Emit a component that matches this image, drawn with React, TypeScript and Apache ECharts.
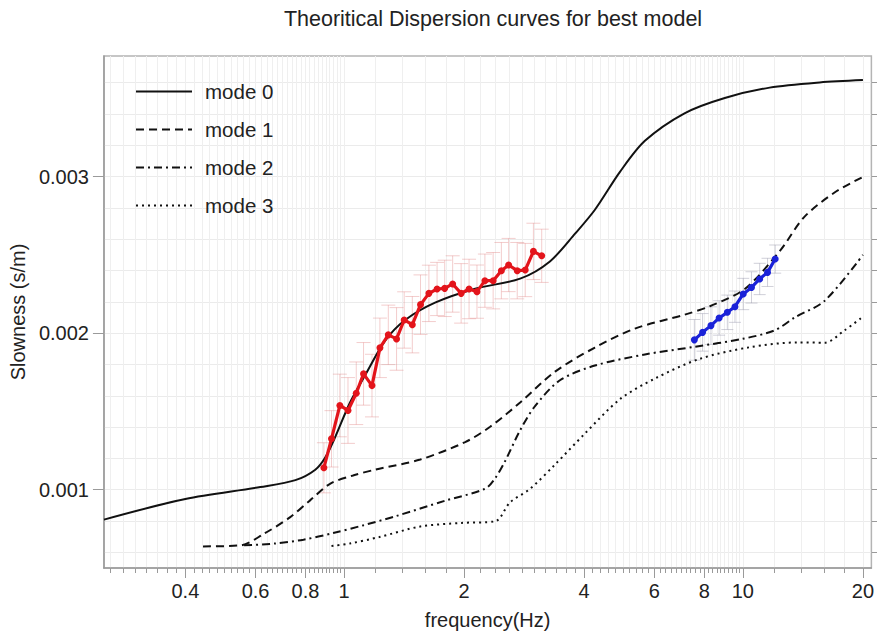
import { useEffect, useRef } from "react";
import * as echarts from "echarts";

// ---- theoretical dispersion curves (frequency Hz, slowness s/m) ----
const mode0Freq = [0.25, 0.4, 0.617, 0.755, 0.847, 0.897, 0.95, 1.035, 1.13, 1.268, 1.423, 1.691, 2.132, 2.764, 3.282, 3.795, 4.256, 4.918, 5.68, 7.139, 9.008, 11.67, 15.58, 20];
const mode0Slow = [0.000809, 0.000941, 0.001017, 0.001061, 0.001128, 0.001206, 0.001336, 0.001557, 0.001732, 0.001952, 0.002084, 0.002195, 0.002284, 0.002348, 0.002458, 0.002635, 0.002788, 0.00303, 0.003228, 0.003404, 0.003502, 0.003568, 0.003601, 0.003616];

const mode1Freq = [0.443, 0.551, 0.63, 0.733, 0.822, 0.922, 1.053, 1.197, 1.553, 2.012, 2.324, 2.764, 3.381, 4.256, 5.362, 7.151, 8.263, 10.11, 12.37, 14.28, 16.98, 20];
const mode1Slow = [0.000638, 0.000645, 0.000719, 0.000825, 0.000932, 0.001038, 0.001091, 0.001128, 0.001193, 0.001304, 0.001402, 0.001557, 0.001754, 0.001908, 0.002029, 0.002118, 0.002172, 0.002282, 0.002524, 0.002744, 0.002898, 0.002998];

const mode2Freq = [0.5615, 0.667, 0.791, 0.939, 1.115, 1.344, 1.793, 2.257, 2.391, 2.533, 2.764, 3.012, 3.478, 4.256, 5.68, 7.575, 9.96, 12.02, 13.51, 16.04, 20];
const mode2Slow = [0.000645, 0.000656, 0.000681, 0.000723, 0.000772, 0.00083, 0.00093, 0.001006, 0.001072, 0.001182, 0.00138, 0.001534, 0.001699, 0.001793, 0.001864, 0.001913, 0.001963, 0.002018, 0.002101, 0.002207, 0.0025];

const mode3Freq = [0.93, 1.033, 1.226, 1.553, 1.973, 2.391, 2.608, 2.928, 3.381, 4.018, 4.918, 6.018, 7.777, 10.35, 13.77, 16.04, 17.99, 20];
const mode3Slow = [0.00064, 0.000656, 0.000698, 0.000765, 0.000788, 0.000798, 0.000919, 0.001006, 0.001161, 0.001359, 0.001578, 0.00171, 0.001835, 0.001909, 0.001941, 0.001939, 0.002018, 0.002105];

// ---- observed dispersion (red, low frequency) ----
const redFreq = [0.89, 0.93, 0.976, 1.023, 1.073, 1.119, 1.175, 1.23, 1.291, 1.354, 1.415, 1.483, 1.555, 1.632, 1.711, 1.788, 1.872, 1.966, 2.058, 2.154, 2.255, 2.365, 2.48, 2.586, 2.718, 2.846, 2.984, 3.13];
const redSlow = [0.00114, 0.001325, 0.001538, 0.001506, 0.001616, 0.00174, 0.001665, 0.001906, 0.001989, 0.001963, 0.002084, 0.002054, 0.002182, 0.002254, 0.002282, 0.002286, 0.002314, 0.002254, 0.002282, 0.002265, 0.002335, 0.002335, 0.002399, 0.002435, 0.002399, 0.002403, 0.002522, 0.002494];
const redErr = [0.00016, 0.00018, 0.0002, 0.00021, 0.0002, 0.0002, 0.0002, 0.00019, 0.00019, 0.0002, 0.00018, 0.00018, 0.00019, 0.00018, 0.00017, 0.00018, 0.00018, 0.00019, 0.00019, 0.00017, 0.00017, 0.00018, 0.00018, 0.00017, 0.00018, 0.00017, 0.00018, 0.00017];

// ---- observed dispersion (blue, high frequency) ----
const blueFreq = [7.557, 7.925, 8.317, 8.718, 9.142, 9.553, 10.02, 10.51, 11.02, 11.53, 12.05];
const blueSlow = [0.001957, 0.002005, 0.002048, 0.002097, 0.002133, 0.002169, 0.00225, 0.002292, 0.002346, 0.002388, 0.002473];
const blueErr = [0.00013, 0.00012, 0.00012, 0.00011, 0.00011, 0.0001, 0.0001, 0.0001, 0.0001, 0.00009, 0.00009];

// ---- axes ----
const xLabelValues = [0.4, 0.6, 0.8, 1, 2, 4, 6, 8, 10, 20];
const yLabelValues = [0.001, 0.002, 0.003];
const legendNames = ["mode 0", "mode 1", "mode 2", "mode 3"];

function stepTicks(from: number, to: number, step: number, digits: number): number[] {
  const out: number[] = [];
  const n = Math.round((to - from) / step);
  for (let i = 0; i <= n; i++) out.push(Number((from + i * step).toFixed(digits)));
  return out;
}
const xMinorTicks = [
  ...stepTicks(0.26, 1, 0.02, 2),
  ...stepTicks(1.2, 10, 0.2, 1),
  ...stepTicks(12, 20, 2, 0),
];
const yMinorTicks = stepTicks(0.0006, 0.0036, 0.0002, 4);

const FONT = "'Liberation Sans', Arial, sans-serif";

const pairs = (fs: number[], vs: number[]) => fs.map((f, i) => [f, vs[i]]);
const errData = (fs: number[], vs: number[], es: number[]) =>
  fs.map((f, i) => [f, vs[i] - es[i], vs[i] + es[i]]);

const errRender = (capHalf: number, color: string) => (_params: any, api: any) => {
  const x = api.value(0);
  const pLo = api.coord([x, api.value(1)]);
  const pHi = api.coord([x, api.value(2)]);
  const style = { stroke: color, lineWidth: 1 };
  return {
    type: "group",
    children: [
      { type: "line", shape: { x1: pLo[0], y1: pLo[1], x2: pHi[0], y2: pHi[1] }, style },
      { type: "line", shape: { x1: pLo[0] - capHalf, y1: pLo[1], x2: pLo[0] + capHalf, y2: pLo[1] }, style },
      { type: "line", shape: { x1: pHi[0] - capHalf, y1: pHi[1], x2: pHi[0] + capHalf, y2: pHi[1] }, style },
    ],
  };
};

export default function App() {
  const ref = useRef<HTMLDivElement>(null);

  useEffect(() => {
    if (!ref.current) return;
    const chart = echarts.init(ref.current, null, { renderer: "svg" });
    const axisGray = "#9a9a9a";
    const gridGray = "#efefef";
    const modeLine = (name: string, fs: number[], vs: number[], type: any) => ({
      name,
      type: "line",
      data: pairs(fs, vs),
      showSymbol: false,
      symbol: "none",
      smooth: 0.3,
      lineStyle: { color: "#111", width: 2, type },
      itemStyle: { color: "#111" },
      z: 3,
    });

    chart.setOption({
      animation: false,
      backgroundColor: "#fff",
      textStyle: { fontFamily: FONT },
      graphic: [
        {
          type: "text",
          x: 493,
          y: 19,
          style: {
            text: "Theoritical Dispersion curves for best model",
            fontSize: 21.5,
            fontFamily: FONT,
            fill: "#222",
            align: "center",
            verticalAlign: "middle",
          },
        },
      ],
      grid: {
        left: 99,
        right: 2,
        top: 56,
        bottom: 69,
        show: true,
        borderColor: "#b4b4b4",
        borderWidth: 1.5,
      },
      legend: {
        orient: "vertical",
        left: 130,
        top: 76,
        itemWidth: 56,
        itemHeight: 14,
        itemGap: 17,
        data: legendNames,
        itemStyle: { opacity: 0, borderWidth: 0 },
        textStyle: { fontSize: 20.5, fontFamily: FONT, color: "#222", padding: [0, 0, 0, 8] },
      },
      xAxis: [
        {
          type: "log",
          logBase: 10,
          min: 0.25,
          max: 21,
          position: "bottom",
          name: "frequency(Hz)",
          nameLocation: "middle",
          nameGap: 42,
          nameTextStyle: { fontSize: 20, fontFamily: FONT, color: "#222" },
          axisLine: { show: true, lineStyle: { color: axisGray, width: 1.5 } },
          axisTick: { show: true, customValues: xLabelValues, length: 10, lineStyle: { color: axisGray } },
          axisLabel: {
            customValues: xLabelValues,
            formatter: (v: number) => String(v),
            fontSize: 20,
            fontFamily: FONT,
            color: "#222",
            margin: 13,
          },
          splitLine: { show: false },
          minorTick: { show: false },
        },
        {
          type: "log",
          logBase: 10,
          min: 0.25,
          max: 21,
          position: "bottom",
          axisLine: { show: false },
          axisTick: { show: true, customValues: xMinorTicks, length: 5, lineStyle: { color: axisGray } },
          axisLabel: { show: false },
          splitLine: { show: true, lineStyle: { color: gridGray, width: 1 } },
        },
      ],
      yAxis: [
        {
          type: "value",
          min: 0.0005,
          max: 0.00377,
          name: "Slowness (s/m)",
          nameLocation: "middle",
          nameGap: 64,
          nameRotate: 90,
          nameTextStyle: { fontSize: 20, fontFamily: FONT, color: "#222" },
          axisLine: { show: true, lineStyle: { color: axisGray, width: 1.5 } },
          axisTick: { show: true, customValues: yLabelValues, length: 11, lineStyle: { color: axisGray } },
          axisLabel: {
            customValues: yLabelValues,
            formatter: (v: number) => v.toFixed(3),
            fontSize: 20,
            fontFamily: FONT,
            color: "#222",
            margin: 15,
          },
          splitLine: { show: false },
        },
        {
          type: "value",
          min: 0.0005,
          max: 0.00377,
          axisLine: { show: false },
          axisTick: { show: true, customValues: yMinorTicks, length: 6, lineStyle: { color: axisGray } },
          axisLabel: { show: false },
          splitLine: { show: true, lineStyle: { color: "#ebebeb", width: 1 } },
        },
      ],
      series: [
        modeLine("mode 0", mode0Freq, mode0Slow, "solid"),
        modeLine("mode 1", mode1Freq, mode1Slow, [8, 5]),
        modeLine("mode 2", mode2Freq, mode2Slow, [8, 4, 2, 4]),
        modeLine("mode 3", mode3Freq, mode3Slow, [2, 4]),
        {
          name: "red error",
          type: "custom",
          renderItem: errRender(7, "rgba(225,130,130,0.4)"),
          data: errData(redFreq, redSlow, redErr),
          encode: { x: 0, y: [1, 2] },
          z: 2,
        },
        {
          name: "blue error",
          type: "custom",
          renderItem: errRender(6, "rgba(150,150,170,0.45)"),
          data: errData(blueFreq, blueSlow, blueErr),
          encode: { x: 0, y: [1, 2] },
          z: 2,
        },
        {
          name: "observed low",
          type: "line",
          data: pairs(redFreq, redSlow),
          symbol: "circle",
          symbolSize: 7,
          lineStyle: { color: "#e3141b", width: 3.2 },
          itemStyle: { color: "#e3141b" },
          z: 5,
        },
        {
          name: "observed high",
          type: "line",
          data: pairs(blueFreq, blueSlow),
          symbol: "circle",
          symbolSize: 7,
          lineStyle: { color: "#1a22d8", width: 3.2 },
          itemStyle: { color: "#1a22d8" },
          z: 5,
        },
      ],
    });

    return () => chart.dispose();
  }, []);

  return (
    <div
      ref={ref}
      style={{ position: "fixed", left: 0, top: 0, width: 877, height: 637, background: "#fff" }}
    />
  );
}
